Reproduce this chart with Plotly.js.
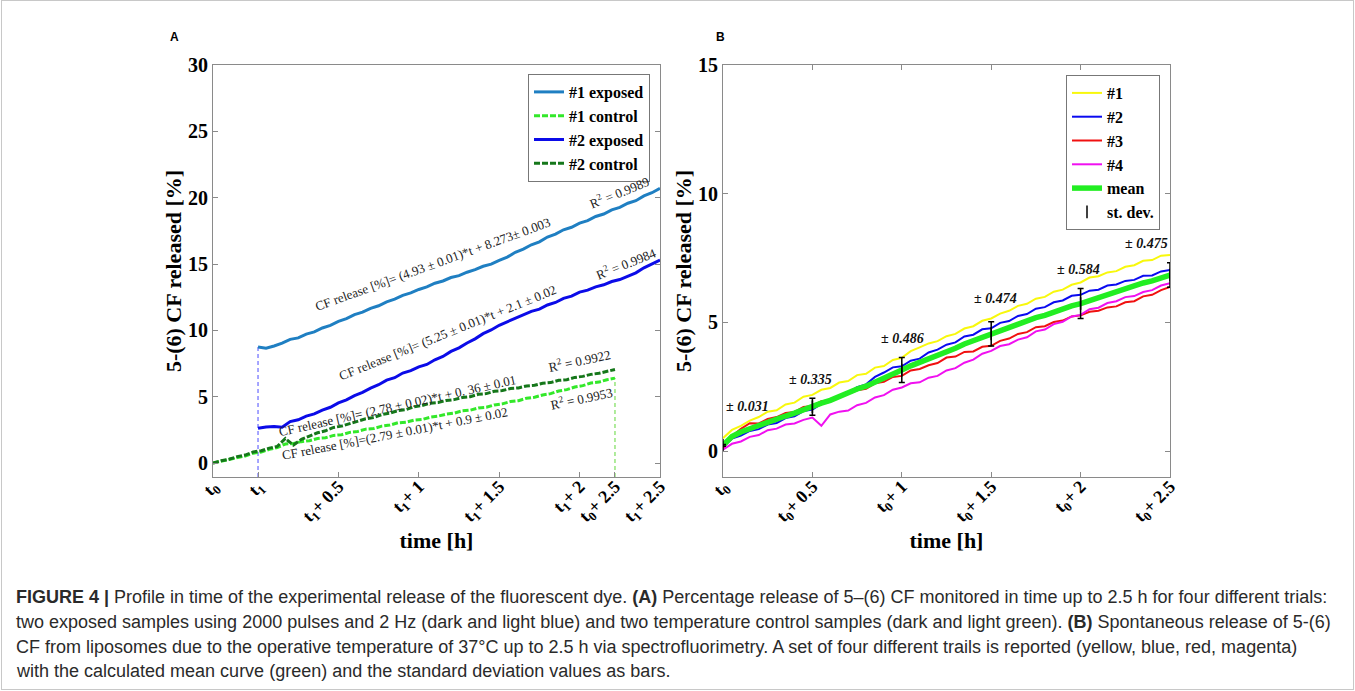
<!DOCTYPE html>
<html>
<head>
<meta charset="utf-8">
<script src="https://cdn.plot.ly/plotly-3.0.1.min.js"></script>
<style>
  html, body { margin: 0; padding: 0; background: #fff; }
  #wrap { position: relative; width: 1355px; height: 691px; }
  #chart { width: 1355px; height: 691px; }
  #frame { position: absolute; left: 1px; top: 0px; width: 1351px; height: 688px; border: 1px solid #c8c8c8; pointer-events: none; }
</style>
</head>
<body>
<div id="wrap"><div id="chart"></div><div id="frame"></div></div>
<script>
// ---------------- DATA ----------------
// Common time grid (h), step 0.05 h
const timeGrid = [0.00,0.05,0.10,0.15,0.20,0.25,0.30,0.35,0.40,0.45,0.50,0.55,0.60,0.65,0.70,0.75,0.80,0.85,0.90,0.95,1.00,1.05,1.10,1.15,1.20,1.25,1.30,1.35,1.40,1.45,1.50,1.55,1.60,1.65,1.70,1.75,1.80,1.85,1.90,1.95,2.00,2.05,2.10,2.15,2.20,2.25,2.30,2.35,2.40,2.45,2.50];

// Panel A: exposure start t1 (h after t0)
const t1Start = 0.28;
// Panel A exposed samples (time measured from t1)
const exposed1 = [8.75,8.66,8.82,9.03,9.32,9.43,9.72,9.88,10.18,10.37,10.67,10.88,11.18,11.37,11.65,11.85,12.15,12.35,12.63,12.82,13.08,13.27,13.55,13.72,13.98,14.12,14.38,14.57,14.83,14.99,15.28,15.52,15.88,16.12,16.45,16.67,17.03,17.25,17.58,17.77,18.08,18.27,18.58,18.77,19.08,19.27,19.58,19.77,20.13,20.37,20.70];
const exposed2 = [2.62,2.72,2.76,2.70,3.12,3.26,3.53,3.70,3.98,4.20,4.53,4.76,5.08,5.33,5.65,5.90,6.25,6.43,6.78,6.96,7.25,7.43,7.78,8.03,8.41,8.68,9.05,9.36,9.75,10.03,10.38,10.63,10.93,11.13,11.43,11.60,11.91,12.10,12.41,12.58,12.88,13.03,13.28,13.43,13.68,13.83,14.08,14.33,14.71,14.98,15.30];
// Panel A control samples (time measured from t0)
const control1 = [0.00,0.14,0.23,0.42,0.53,0.74,0.83,1.03,1.17,1.43,1.47,1.61,1.68,1.85,1.90,2.08,2.13,2.31,2.38,2.55,2.60,2.78,2.86,3.03,3.08,3.23,3.28,3.45,3.53,3.68,3.76,3.93,3.98,4.15,4.20,4.38,4.46,4.63,4.70,4.88,4.96,5.13,5.23,5.43,5.53,5.73,5.83,6.03,6.10,6.28,6.40];
const control2 = [0.00,0.17,0.28,0.48,0.60,0.83,0.93,1.12,1.25,1.85,1.35,1.78,2.03,2.28,2.43,2.68,2.78,2.98,3.13,3.33,3.43,3.65,3.76,3.95,4.03,4.23,4.33,4.51,4.56,4.71,4.78,4.93,5.00,5.18,5.23,5.41,5.46,5.61,5.66,5.81,5.86,6.01,6.06,6.23,6.28,6.45,6.53,6.68,6.76,6.93,7.05];
const namesA = ['#1 exposed', '#1 control', '#2 exposed', '#2 control'];
const fitTextA = [
  'CF release [%]= (4.93 ± 0.01)*t + 8.273± 0.003',
  'CF release [%]= (5.25 ± 0.01)*t + 2.1 ± 0.02',
  'CF release [%]= (2.78 ± 0.02)*t + 0. 36 ± 0.01',
  'CF release [%]=(2.79 ± 0.01)*t + 0.9 ± 0.02'
];
const r2TextA = ['R<sup>2</sup> = 0.9989', 'R<sup>2</sup> = 0.9984', 'R<sup>2</sup> = 0.9922', 'R<sup>2</sup> = 0.9953'];
const tickTextA = ['t<sub>0</sub>','t<sub>1</sub>','t<sub>1</sub>+ 0.5','t<sub>1</sub>+ 1','t<sub>1</sub>+ 1.5','t<sub>1</sub>+ 2','t<sub>0</sub>+ 2.5','t<sub>1</sub>+ 2.5'];

// Panel B: four trials, mean, standard deviation
const trial1 = [0.50,0.82,0.98,1.18,1.32,1.53,1.58,1.81,1.88,2.11,2.18,2.38,2.45,2.66,2.72,2.95,3.00,3.24,3.30,3.54,3.62,3.88,4.03,4.18,4.27,4.46,4.55,4.76,4.85,5.06,5.15,5.34,5.45,5.64,5.72,5.92,5.99,6.19,6.27,6.46,6.55,6.74,6.79,6.94,6.99,7.16,7.22,7.39,7.42,7.59,7.62];
const trial2 = [0.15,0.48,0.60,0.78,0.85,1.03,1.09,1.28,1.35,1.55,1.61,1.83,1.92,2.15,2.25,2.48,2.59,2.88,3.05,3.25,3.29,3.51,3.59,3.83,3.94,4.13,4.22,4.45,4.52,4.73,4.77,4.98,5.05,5.25,5.32,5.53,5.59,5.78,5.85,6.03,6.07,6.23,6.27,6.43,6.47,6.61,6.65,6.81,6.82,6.98,7.03];
const trial3 = [0.10,0.58,0.86,1.08,1.07,1.25,1.32,1.48,1.52,1.71,1.75,1.93,1.97,2.15,2.22,2.36,2.42,2.63,2.69,2.88,2.92,3.13,3.19,3.33,3.42,3.63,3.67,3.85,3.87,4.05,4.09,4.28,4.37,4.55,4.62,4.81,4.85,5.01,5.07,5.23,5.27,5.41,5.45,5.58,5.62,5.78,5.82,6.01,6.07,6.25,6.38];
const trial4 = [0.05,0.28,0.37,0.55,0.62,0.81,0.87,1.03,1.07,1.21,1.30,0.98,1.42,1.53,1.57,1.78,1.87,2.08,2.17,2.38,2.47,2.63,2.67,2.85,2.92,3.13,3.22,3.43,3.55,3.78,3.89,4.08,4.15,4.33,4.42,4.65,4.72,4.93,5.02,5.23,5.29,5.51,5.57,5.75,5.82,5.98,6.02,6.18,6.25,6.43,6.52];
const meanCurve = [0.22,0.56,0.74,0.89,0.99,1.11,1.21,1.36,1.47,1.61,1.72,1.86,1.97,2.13,2.25,2.41,2.52,2.69,2.82,2.99,3.15,3.31,3.44,3.59,3.71,3.88,3.99,4.16,4.29,4.44,4.55,4.69,4.79,4.93,5.04,5.18,5.27,5.41,5.51,5.64,5.73,5.85,5.95,6.09,6.19,6.33,6.41,6.53,6.61,6.74,6.84];
const sdTimes = [0, 0.5, 1, 1.5, 2, 2.5];
const sdValues = [0.031, 0.335, 0.486, 0.474, 0.584, 0.475];
const namesB = ['#1', '#2', '#3', '#4', 'mean', 'st. dev.'];
const tickTextB = ['t<sub>0</sub>','t<sub>0</sub>+ 0.5','t<sub>0</sub>+ 1','t<sub>0</sub>+ 1.5','t<sub>0</sub>+ 2','t<sub>0</sub>+ 2.5'];

// ---------------- BUILD ----------------
const W = 1355, H = 691;
const serif = 'Liberation Serif, Times New Roman, serif';
const px = v => v / W;
const py = v => 1 - v / H;

const yMinA = -1.055, yMinB = -1.01;
const xExposed = timeGrid.map(t => t + t1Start);
const lastCtl1 = control1[control1.length - 1];
const tEndCtl = timeGrid[timeGrid.length - 1];

const colA = { exp1: '#1f7fc2', ctl1: '#33e82a', exp2: '#0b0be8', ctl2: '#15771a' };
const colB = ['#f8f80c', '#0a0af0', '#f01010', '#f010f0', '#22ee22'];

const traces = [];
// vertical dashed markers of the exposure start / control end
traces.push({ x: [t1Start, t1Start], y: [yMinA, exposed1[0]], mode: 'lines', xaxis: 'x', yaxis: 'y',
  line: { color: '#6a6aff', width: 1.2, dash: '4px,3px' }, showlegend: false, hoverinfo: 'skip' });
traces.push({ x: [tEndCtl, tEndCtl], y: [yMinA, lastCtl1], mode: 'lines', xaxis: 'x', yaxis: 'y',
  line: { color: '#7ade5a', width: 1.2, dash: '4px,3px' }, showlegend: false, hoverinfo: 'skip' });

traces.push({ x: xExposed, y: exposed1, name: namesA[0], mode: 'lines', xaxis: 'x', yaxis: 'y', legend: 'legend',
  line: { color: colA.exp1, width: 3 } });
traces.push({ x: timeGrid, y: control1, name: namesA[1], mode: 'lines', xaxis: 'x', yaxis: 'y', legend: 'legend',
  line: { color: colA.ctl1, width: 3, dash: '6px,2px' } });
traces.push({ x: xExposed, y: exposed2, name: namesA[2], mode: 'lines', xaxis: 'x', yaxis: 'y', legend: 'legend',
  line: { color: colA.exp2, width: 3 } });
traces.push({ x: timeGrid, y: control2, name: namesA[3], mode: 'lines', xaxis: 'x', yaxis: 'y', legend: 'legend',
  line: { color: colA.ctl2, width: 3, dash: '6px,2px' } });

[trial1, trial2, trial3, trial4].forEach((arr, i) => {
  traces.push({ x: timeGrid, y: arr, name: namesB[i], mode: 'lines', xaxis: 'x2', yaxis: 'y2', legend: 'legend2',
    line: { color: colB[i], width: 2 } });
});
traces.push({ x: timeGrid, y: meanCurve, name: namesB[4], mode: 'lines', xaxis: 'x2', yaxis: 'y2', legend: 'legend2',
  line: { color: colB[4], width: 5.5 } });
const sdCenters = sdTimes.map(t => meanCurve[timeGrid.findIndex(g => Math.abs(g - t) < 1e-9)]);
traces.push({ x: sdTimes, y: sdCenters, name: namesB[5], mode: 'markers', xaxis: 'x2', yaxis: 'y2', legend: 'legend2',
  marker: { symbol: 'line-ns-open', size: 9, color: 'black', line: { color: 'black', width: 1.5 } },
  error_y: { type: 'data', array: sdValues, visible: true, color: 'black', thickness: 1.5, width: 3 } });

const axisCommon = {
  showgrid: false, zeroline: false, showline: true, linecolor: '#8a8a8a', linewidth: 1,
  ticks: 'inside', ticklen: 5, tickcolor: '#8a8a8a', tickwidth: 1,
  tickfont: { family: serif, size: 20, weight: 'bold', color: 'black' },
  fixedrange: true
};
const titleFont = { family: serif, size: 22, weight: 'bold', color: 'black' };
const xTickFont = { family: serif, size: 18, weight: 'bold', color: 'black' };

const annFit = (text, x, y, ang) => ({ text, x, y, xref: 'x', yref: 'y', showarrow: false, textangle: ang,
  xanchor: 'center', yanchor: 'middle', font: { family: serif, size: 13, color: '#222' } });
const sdLabelPos = [[0.137, 1.72], [0.487, 2.76], [1.004, 4.38], [1.526, 5.93], [1.987, 7.06], [2.366, 8.05]];

const annotations = [
  annFit(fitTextA[0], 1.362, 15.0, -20),
  annFit(r2TextA[0], 2.525, 20.39, -22),
  annFit(fitTextA[1], 1.461, 9.87, -22),
  annFit(r2TextA[1], 2.568, 15.11, -22),
  annFit(fitTextA[2], 1.15, 4.37, -12.5),
  annFit(r2TextA[2], 2.282, 7.76, -12),
  annFit(fitTextA[3], 1.132, 2.19, -11),
  annFit(r2TextA[3], 2.289, 4.9, -12),
];
sdValues.forEach((v, i) => {
  annotations.push({ text: '± ' + v.toFixed(3), x: sdLabelPos[i][0], y: sdLabelPos[i][1], xref: 'x2', yref: 'y2',
    showarrow: false, xanchor: 'center', yanchor: 'middle',
    font: { family: serif, size: 14, weight: 'bold', style: 'italic', color: '#111' } });
});
// panel letters
annotations.push({ text: 'A', x: px(174), y: py(37), xref: 'paper', yref: 'paper', showarrow: false,
  xanchor: 'center', yanchor: 'middle', font: { family: 'Liberation Sans, Arial, sans-serif', size: 12, weight: 'bold', color: 'black' } });
annotations.push({ text: 'B', x: px(720), y: py(37), xref: 'paper', yref: 'paper', showarrow: false,
  xanchor: 'center', yanchor: 'middle', font: { family: 'Liberation Sans, Arial, sans-serif', size: 12, weight: 'bold', color: 'black' } });
// caption
const captionLines = [
  '<b>FIGURE 4 |</b> Profile in time of the experimental release of the fluorescent dye. <b>(A)</b> Percentage release of 5–(6) CF monitored in time up to 2.5 h for four different trials:',
  'two exposed samples using 2000 pulses and 2 Hz (dark and light blue) and two temperature control samples (dark and light green). <b>(B)</b> Spontaneous release of 5-(6)',
  'CF from liposomes due to the operative temperature of 37°C up to 2.5 h via spectrofluorimetry. A set of four different trails is reported (yellow, blue, red, magenta)',
  'with the calculated mean curve (green) and the standard deviation values as bars.'
];
const captionY = [597, 622, 647, 671];
captionLines.forEach((t, i) => {
  annotations.push({ text: t, x: px(14), y: py(captionY[i]), xref: 'paper', yref: 'paper', showarrow: false,
    xanchor: 'left', yanchor: 'middle', align: 'left',
    font: { family: 'Liberation Sans, Arial, sans-serif', size: 18, color: '#2a2a2a' } });
});

const legendCommon = { bgcolor: 'white', bordercolor: '#777', borderwidth: 1,
  font: { family: serif, size: 16, weight: 'bold', color: 'black' }, itemwidth: 30, tracegroupgap: 0,
  xanchor: 'right', yanchor: 'top' };

const layout = {
  width: W, height: H,
  margin: { l: 0, r: 0, t: 0, b: 0 },
  paper_bgcolor: 'white', plot_bgcolor: 'white',
  showlegend: true, hovermode: false,
  xaxis: Object.assign({}, axisCommon, {
    domain: [px(213), px(660)], range: [0, t1Start + 2.5], anchor: 'y', mirror: true,
    tickvals: [0, t1Start, t1Start + 0.5, t1Start + 1, t1Start + 1.5, t1Start + 2, 2.5, t1Start + 2.5],
    ticktext: tickTextA, tickangle: -45, tickfont: xTickFont, ticklabelstandoff: -9,
    title: { text: 'time [h]', font: titleFont, standoff: 0 }
  }),
  yaxis: Object.assign({}, axisCommon, {
    domain: [py(477), py(65)], range: [yMinA, 30], anchor: 'x', mirror: 'ticks',
    tickvals: [0, 5, 10, 15, 20, 25, 30],
    title: { text: '5-(6) CF released [%]', font: titleFont, standoff: 0 }
  }),
  xaxis2: Object.assign({}, axisCommon, {
    domain: [px(723), px(1170)], range: [0, 2.5], anchor: 'y2', mirror: 'ticks',
    tickvals: [0, 0.5, 1, 1.5, 2, 2.5], ticktext: tickTextB, tickangle: -45, tickfont: xTickFont, ticklabelstandoff: -9,
    title: { text: 'time [h]', font: titleFont, standoff: 0 }
  }),
  yaxis2: Object.assign({}, axisCommon, {
    domain: [py(477), py(65)], range: [yMinB, 15], anchor: 'x2', mirror: 'ticks',
    tickvals: [0, 5, 10, 15],
    title: { text: '5-(6) CF released [%]', font: titleFont, standoff: 0 }
  }),
  legend: Object.assign({}, legendCommon, { x: px(650), y: py(74) }),
  legend2: Object.assign({}, legendCommon, { x: px(1160), y: py(75) }),
  annotations
};

Plotly.newPlot('chart', traces, layout, { displayModeBar: false, responsive: false });
</script>
</body>
</html>
